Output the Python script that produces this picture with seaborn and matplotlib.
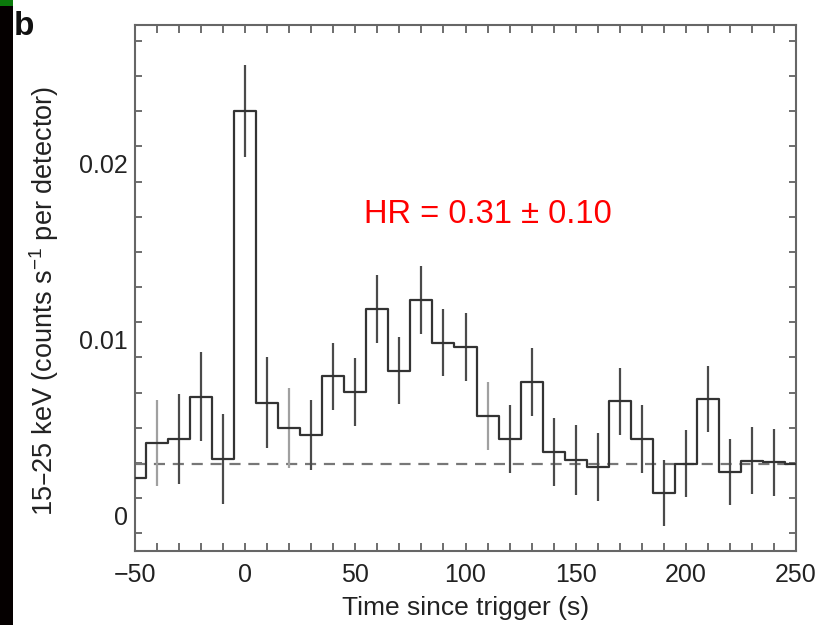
import numpy as np
import pandas as pd
import matplotlib
matplotlib.use("Agg")
import matplotlib.pyplot as plt
from matplotlib.patches import Rectangle
import seaborn as sns

# ---- data ----
time_s = [-50, -40, -30, -20, -10, 0, 10, 20, 30, 40, 50, 60, 70, 80, 90, 100,
          110, 120, 130, 140, 150, 160, 170, 180, 190, 200, 210, 220, 230, 240, 250]
rate = [0.00214, 0.00413, 0.00438, 0.00678, 0.00322, 0.0230, 0.00644, 0.00498,
        0.00460, 0.00792, 0.00703, 0.01177, 0.00824, 0.01227, 0.00985, 0.00962,
        0.00568, 0.00438, 0.00763, 0.00362, 0.00318, 0.00275, 0.00650, 0.00438,
        0.00129, 0.00295, 0.00665, 0.00248, 0.00314, 0.00305, 0.00295]
err_time = [-40, -30, -20, -10, 0, 10, 20, 30, 40, 50, 60, 70, 80, 90, 100,
            110, 120, 130, 140, 150, 160, 170, 180, 190, 200, 210, 220, 230, 240]
err_val = [0.00413, 0.00438, 0.00678, 0.00322, 0.0230, 0.00644, 0.00498,
           0.00460, 0.00792, 0.00703, 0.01177, 0.00824, 0.01227, 0.00985, 0.00962,
           0.00568, 0.00438, 0.00763, 0.00362, 0.00318, 0.00275, 0.00650, 0.00438,
           0.00129, 0.00295, 0.00665, 0.00248, 0.00314, 0.00305]
err_half = [0.00246, 0.00256, 0.00251, 0.00256, 0.0026, 0.00256, 0.00228, 0.00201,
            0.00192, 0.00193, 0.00192, 0.0019, 0.00195, 0.0019, 0.00193, 0.00193,
            0.00192, 0.00193, 0.00192, 0.00197, 0.00193, 0.0019, 0.00192, 0.00186,
            0.0019, 0.00187, 0.00188, 0.0019, 0.0019]
light_err_times = [-40, 20, 110]
background = 0.00295
x_ticklabels = ["\u221250", "0", "50", "100", "150", "200", "250"]
x_tickvals = [-50, 0, 50, 100, 150, 200, 250]
y_tickvals = [0, 0.01, 0.02]
y_ticklabels = ["0", "0.01", "0.02"]
annotation = "HR = 0.31 \u00b1 0.10"

# ---- style ----
sns.set_theme(style="white")
plt.rcParams["font.family"] = ["Liberation Sans", "DejaVu Sans"]

fig = plt.figure(figsize=(8.34, 6.25), dpi=100)
ax = fig.add_axes([135 / 834, 1 - 551 / 625, 661 / 834, 526 / 625])

df = pd.DataFrame({"t": time_s, "rate": rate})
sns.lineplot(data=df, x="t", y="rate", ax=ax, drawstyle="steps-mid",
             color="#333333", linewidth=1.6, zorder=3)

edf = pd.DataFrame({"t": err_time, "v": err_val, "e": err_half})
colors = ["#a0a0a0" if t in light_err_times else "#4a4a4a" for t in edf["t"]]
ax.vlines(edf["t"], edf["v"] - edf["e"], edf["v"] + edf["e"],
          colors=colors, linewidth=1.6, zorder=2)

ax.axhline(background, color="#777777", linewidth=1.6, dashes=(5, 3.5), zorder=1)

ax.set_xlim(-50, 250)
ax.set_ylim(-0.002, 0.0279)

ax.set_xticks(x_tickvals)
ax.set_xticklabels(x_ticklabels)
ax.set_xticks(np.arange(-50, 251, 10), minor=True)
ax.set_yticks(y_tickvals)
ax.set_yticklabels(y_ticklabels)
ax.set_yticks(np.arange(-0.001, 0.0279, 0.002), minor=True)

ax.tick_params(axis="x", which="both", direction="in", top=True, bottom=True,
               length=6, width=1.2, color="#555555", labelsize=18,
               labelcolor="#222222", pad=9)
ax.tick_params(axis="y", which="major", length=0, labelsize=18,
               labelcolor="#222222", pad=5)
ax.tick_params(axis="y", which="minor", direction="in", left=True, right=True,
               length=5, width=1.2, color="#555555")

for s in ax.spines.values():
    s.set_color("#666666")
    s.set_linewidth(1.5)

ax.set_xlabel("Time since trigger (s)", fontsize=19, color="#222222", labelpad=6)
ax.set_ylabel("15\u201325 keV (counts s$^{\\mathregular{\u22121}}$ per detector)",
              fontsize=19.5, color="#222222", labelpad=13)
ax.yaxis.label.set_y(0.475)

ax.text(110, 0.0171, annotation, color="#ff0000", fontsize=23.5,
        ha="center", va="center")

fig.text(14 / 834, 1 - 35 / 625, "b", fontsize=24, fontweight="bold",
         color="#111111", ha="left", va="baseline")

# scanned left strip
fig.patches.append(Rectangle((0, 0), 13 / 834, 1, transform=fig.transFigure,
                             facecolor="#050000", edgecolor="none", zorder=-1))
fig.patches.append(Rectangle((0, 1 - 6 / 625), 13 / 834, 6 / 625,
                             transform=fig.transFigure, facecolor="#0b7a0b",
                             edgecolor="none", zorder=0))

fig.savefig("out.png", dpi=100)
